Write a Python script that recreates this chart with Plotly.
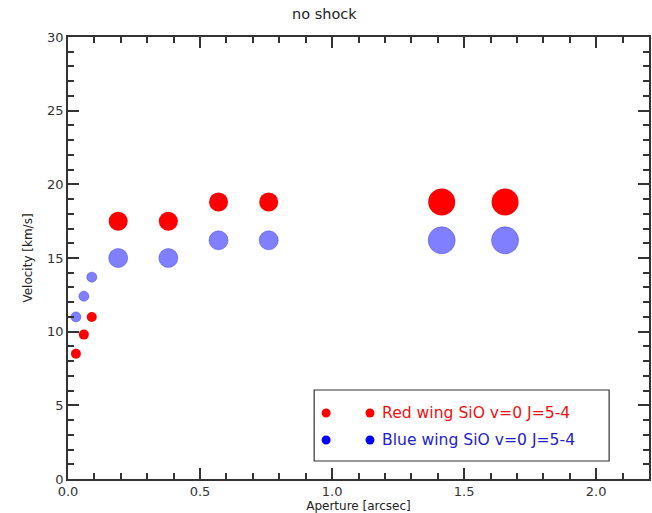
import plotly.graph_objects as go

# Aperture (arcsec) and wing velocities (km/s)
aperture = [0.03, 0.06, 0.09, 0.19, 0.38, 0.57, 0.76, 1.415, 1.655]
red_velocity = [8.5, 9.8, 11.0, 17.5, 17.5, 18.8, 18.8, 18.8, 18.8]
blue_velocity = [11.0, 12.4, 13.7, 15.0, 15.0, 16.2, 16.2, 16.2, 16.2]

# marker diameters (px) per aperture
marker_px = [10, 10, 10, 19, 19, 19, 19, 27, 27]

title_text = "no shock"
x_title = "Aperture [arcsec]"
y_title = "Velocity [km/s]"
red_label = "Red wing SiO v=0 J=5-4"
blue_label = "Blue wing SiO v=0 J=5-4"

FONT = "DejaVu Sans"
AXIS_COLOR = "#333333"

fig = go.Figure()
fig.add_trace(go.Scatter(
    x=aperture, y=blue_velocity, mode="markers",
    marker=dict(size=marker_px, color="rgba(0,0,255,0.5)", opacity=1,
                line=dict(width=1, color="rgba(60,60,230,0.45)")),
    showlegend=False))
fig.add_trace(go.Scatter(
    x=aperture, y=red_velocity, mode="markers",
    marker=dict(size=marker_px, color="#ff0000", opacity=1, line=dict(width=0)),
    showlegend=False))

L, R, T, B = 68, 1, 37, 34
W, H = 652, 513
pw, ph = W - L - R, H - T - B


def px(x):
    return (x - L) / pw


def py(y):
    return (H - B - y) / ph


shapes = [dict(type="rect", xref="paper", yref="paper",
               x0=px(315), x1=px(611), y0=py(461), y1=py(390),
               line=dict(color=AXIS_COLOR, width=1.2), fillcolor="white")]
annotations = []
for row_y, col, dot, txt in [(413, "#ee1111", "#ff0000", red_label),
                             (440, "#2222cc", "#0000ff", blue_label)]:
    for cx in (327, 371):
        shapes.append(dict(type="circle", xref="paper", yref="paper",
                           x0=px(cx - 4.5), x1=px(cx + 4.5),
                           y0=py(row_y + 4.5), y1=py(row_y - 4.5),
                           fillcolor=dot, line=dict(width=0)))
    annotations.append(dict(xref="paper", yref="paper", x=px(381), y=py(row_y),
                            xanchor="left", yanchor="middle", showarrow=False,
                            text=txt, font=dict(family=FONT, size=15.6, color=col)))

axis_common = dict(
    showgrid=False, zeroline=False, showline=True, linecolor=AXIS_COLOR, linewidth=1.5,
    mirror="allticks", ticks="inside", ticklen=11, tickwidth=1.5, tickcolor=AXIS_COLOR,
    tickfont=dict(family=FONT, size=13, color=AXIS_COLOR),
)

fig.update_layout(
    width=W, height=H,
    margin=dict(l=L, r=R, t=T, b=B),
    paper_bgcolor="white", plot_bgcolor="white",
    title=dict(text=title_text, x=px(358), xanchor="center", y=1 - 14 / H, yanchor="middle",
               font=dict(family=FONT, size=14.5, color="#222222")),
    xaxis=dict(range=[0, 2.2], dtick=0.5, tick0=0, tickformat=".1f",
               title=dict(text=x_title, standoff=0, font=dict(family=FONT, size=12, color="#222222")),
               minor=dict(dtick=0.1, ticks="inside", ticklen=6, tickwidth=1.5, tickcolor=AXIS_COLOR),
               **axis_common),
    yaxis=dict(range=[0, 30], dtick=5, tick0=0,
               title=dict(text=y_title, standoff=12, font=dict(family=FONT, size=12, color="#222222")),
               minor=dict(dtick=1, ticks="inside", ticklen=6, tickwidth=1.5, tickcolor=AXIS_COLOR),
               **axis_common),
    shapes=shapes,
    annotations=annotations,
)

fig.write_html("out.html")
